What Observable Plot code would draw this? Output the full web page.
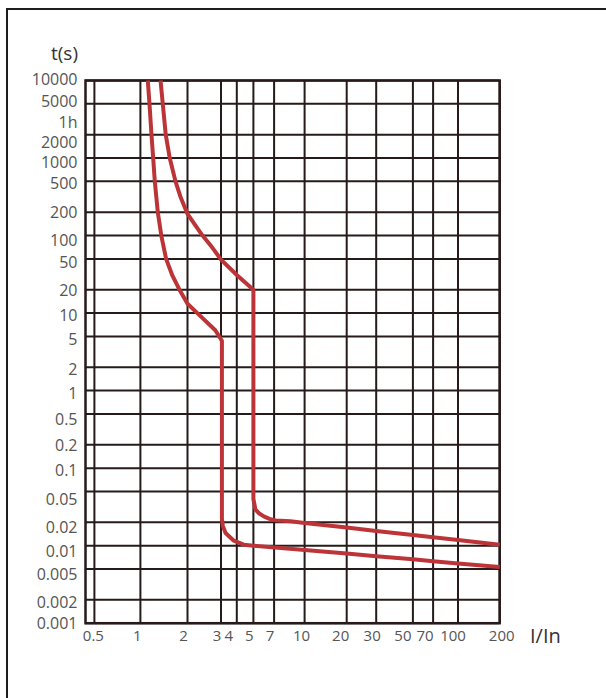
<!DOCTYPE html>
<html><head><meta charset="utf-8">
<script src="https://cdn.jsdelivr.net/npm/d3@7"></script>
<script src="https://cdn.jsdelivr.net/npm/@observablehq/plot@0.6"></script>
<style>
html,body{margin:0;padding:0;background:#fff;overflow:hidden;}
#wrap{position:relative;width:606px;height:698px;overflow:hidden;font-family:'Open Sans',sans-serif;}
#border{position:absolute;left:6px;top:8px;width:800px;height:900px;border-left:2px solid #1e1e1e;border-top:2px solid #1e1e1e;}
#chart{position:absolute;left:0;top:0;}
#ylab{position:absolute;left:0;width:78px;text-align:right;top:44px;font-size:19px;line-height:19px;color:#333;}
#xlab{position:absolute;left:530px;top:626px;font-size:20px;line-height:20px;color:#333;}
</style></head><body>
<div id="wrap"><div id="border"></div><div id="chart"></div><div id="ylab">t(s)</div><div id="xlab">I/In</div></div>
<script>
// Tick values
const xTicks = [0.5, 1, 2, 3, 4, 5, 7, 10, 20, 30, 50, 70, 100, 200];
const yTicks = [10000, 5000, 3600, 2000, 1000, 500, 200, 100, 50, 20, 10, 5, 2, 1, 0.5, 0.2, 0.1, 0.05, 0.02, 0.01, 0.005, 0.002, 0.001];
const yGrid = [10000, 5000, 2000, 1000, 500, 200, 100, 50, 20, 10, 5, 2, 1, 0.5, 0.2, 0.1, 0.05, 0.02, 0.01, 0.005, 0.002, 0.001];

// Lower tripping curve (I/In, t)
const lowI = [1.115, 1.143, 1.177, 1.207, 1.236, 1.292, 1.36, 1.46, 1.6, 1.8, 2.0, 2.4, 2.8, 3.05, 3.05, 3.1, 3.26, 3.79, 4.39, 5.03, 10, 20, 30, 50, 70, 100, 200];
const lowT = [10000, 5000, 2000, 1000, 500, 200, 100, 50, 30.6, 19.1, 13.2, 8.6, 6.0, 4.4, 0.022, 0.018, 0.0146, 0.0116, 0.0103, 0.0100, 0.0088, 0.0079, 0.0073, 0.0067, 0.0063, 0.0059, 0.0053];

// Upper tripping curve (I/In, t)
const upI = [1.345, 1.39, 1.452, 1.54, 1.676, 1.80, 2.0, 2.2, 2.4, 2.7, 3.0, 4.0, 5.0, 5.0, 5.17, 5.5, 5.92, 6.5, 7.12, 8.48, 10, 20, 30, 50, 70, 100, 200];
const upT = [10000, 5000, 2000, 1000, 500, 320, 190, 135, 100, 70, 49, 31, 20, 0.04, 0.0292, 0.026, 0.0239, 0.0222, 0.0212, 0.0206, 0.0196, 0.0171, 0.0155, 0.0137, 0.0128, 0.0118, 0.0103];

const low = lowI.map((x, i) => ({x, t: lowT[i]}));
const up = upI.map((x, i) => ({x, t: upT[i]}));

// Styling
const gridColor = "#261a1a";
const red = "#bd3438";
const labelColor = "#555";
const yFmt = d => d === 3600 ? "1h" : String(d);
// label nudges (pixels), matching the reference's hand-placed labels
const yNudge = v => ({10000: -1, 5000: -2, 3600: 8, 2000: 8, 1000: 5, 500: 3, 200: 1, 100: 5, 50: 4, 20: 1, 0.5: 6, 0.2: 1, 0.05: 8, 0.02: 6, 0.01: 6, 0.005: 6, 0.001: 1})[v] ?? 3;
const xNudge = v => ({0.5: -1, 1: -3, 4: -8, 10: -3, 20: -6, 50: -10, 70: -8, 100: -5, 200: 2})[v] ?? -4;

function groupBy(values, f) {
  const m = new Map();
  for (const v of values) { const k = f(v); if (!m.has(k)) m.set(k, []); m.get(k).push(v); }
  return [...m];
}

const xLabelMarks = groupBy(xTicks, xNudge).map(([dx, vals]) =>
  Plot.text(vals, {x: d => d, text: d => String(d), frameAnchor: "bottom", lineAnchor: "top", dy: 7, dx, fontSize: 15, fill: labelColor}));
const yLabelMarks = groupBy(yTicks, yNudge).map(([dy, vals]) =>
  Plot.text(vals, {y: d => d, text: yFmt, frameAnchor: "left", textAnchor: "end", dx: -8, dy, fontSize: 16, fill: labelColor}));

const chart = Plot.plot({
  width: 606,
  height: 698,
  marginLeft: 85,
  marginTop: 80,
  marginRight: 106.8,
  marginBottom: 75.3,
  style: {fontFamily: "'Open Sans', sans-serif", fontSize: "16px", color: labelColor, background: "transparent", overflow: "visible"},
  x: {type: "log", axis: null, domain: xTicks, range: [93.9, 139.9, 187, 220.5, 236.3, 252.9, 273.6, 304.1, 346.2, 375.7, 412.4, 432.6, 457.5, 499.2]},
  y: {type: "log", axis: null, domain: [0.001, 10000]},
  marks: [
    Plot.ruleX(xTicks, {x: d => d, stroke: gridColor, strokeWidth: 2}),
    Plot.ruleY(yGrid, {y: d => d, stroke: gridColor, strokeWidth: 2}),
    Plot.frame({stroke: gridColor, strokeWidth: 2.5}),
    ...xLabelMarks,
    ...yLabelMarks,
    Plot.line(low, {x: "x", y: "t", stroke: red, strokeWidth: 4, strokeLinejoin: "round", strokeLinecap: "butt"}),
    Plot.line(up, {x: "x", y: "t", stroke: red, strokeWidth: 4, strokeLinejoin: "round", strokeLinecap: "butt"})
  ]
});
document.getElementById("chart").appendChild(chart);
</script>
</body></html>
